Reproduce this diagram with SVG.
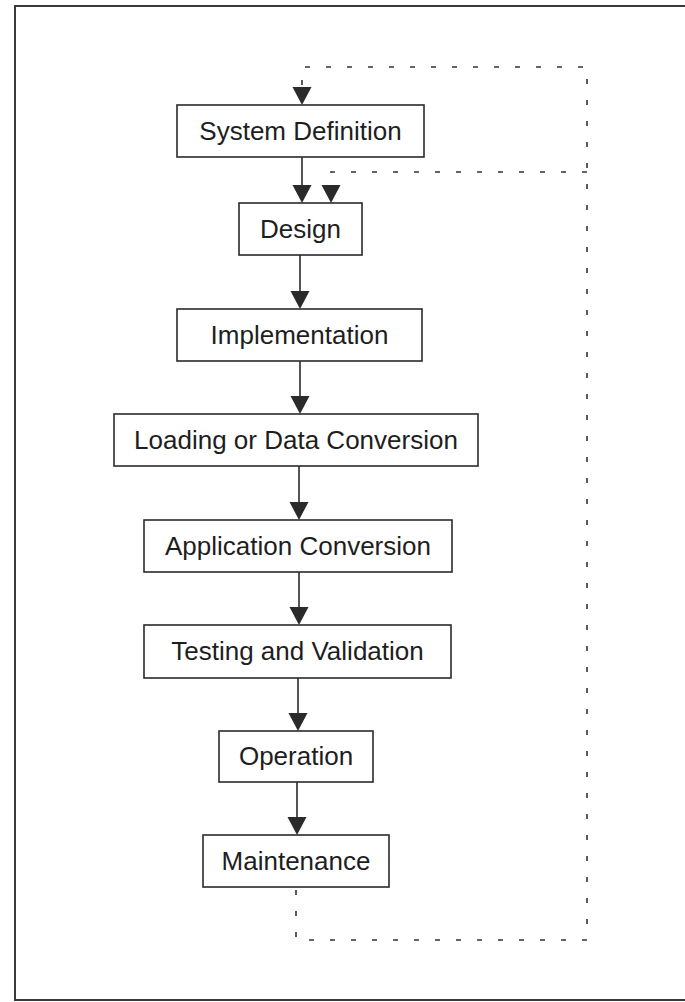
<svg xmlns="http://www.w3.org/2000/svg" width="685" height="1002" viewBox="0 0 685 1002">
  <style>
    .box { fill: #ffffff; stroke: #2a2a2a; stroke-width: 1.6; }
    .lbl { font-family: "Liberation Sans", Arial, sans-serif; font-size: 26px; fill: #1e1e1e; text-anchor: middle; }
    .flow { stroke: #2a2a2a; stroke-width: 1.6; fill: none; }
    .loop { stroke: #333333; stroke-width: 1.6; fill: none; stroke-dasharray: 5 16; }
    .head { fill: #2a2a2a; }
  </style>
  <defs>
    <path id="tri" d="M -9.5 -18 L 9.5 -18 L 0 0 Z"/>
  </defs>

  <!-- page frame -->
  <rect x="15" y="6" width="700" height="994" fill="#ffffff" stroke="#3a3a3a" stroke-width="2"/>

  <!-- connectors -->
  <g id="connectors">
    <line class="flow" x1="302" y1="157" x2="302" y2="190"/>
    <use href="#tri" class="head" x="302" y="203"/>
    <line class="flow" x1="300" y1="255" x2="300" y2="296"/>
    <use href="#tri" class="head" x="300" y="309"/>
    <line class="flow" x1="300" y1="361" x2="300" y2="401"/>
    <use href="#tri" class="head" x="300" y="414"/>
    <line class="flow" x1="299" y1="466" x2="299" y2="507"/>
    <use href="#tri" class="head" x="299" y="520"/>
    <line class="flow" x1="299" y1="572" x2="299" y2="612"/>
    <use href="#tri" class="head" x="299" y="625"/>
    <line class="flow" x1="298" y1="678" x2="298" y2="718"/>
    <use href="#tri" class="head" x="298" y="731"/>
    <line class="flow" x1="297" y1="782" x2="297" y2="822"/>
    <use href="#tri" class="head" x="297" y="835"/>

    <!-- feedback loop back to System Definition -->
    <path class="loop" d="M 296 890 L 296 940 L 587 940 L 587 67 L 302 67 L 302 88"/>
    <use href="#tri" class="head" x="302" y="105"/>
    <!-- feedback loop back to Design -->
    <path class="loop" d="M 587 172 L 331 172 L 331 186"/>
    <use href="#tri" class="head" x="331" y="203"/>
  </g>

  <g id="system-definition">
    <rect class="box" x="177" y="105" width="247" height="52"/>
    <text class="lbl" x="300.5" y="140">System Definition</text>
  </g>
  <g id="design">
    <rect class="box" x="239" y="203" width="123" height="52"/>
    <text class="lbl" x="300.5" y="238">Design</text>
  </g>
  <g id="implementation">
    <rect class="box" x="177" y="309" width="245" height="52"/>
    <text class="lbl" x="299.5" y="344">Implementation</text>
  </g>
  <g id="loading">
    <rect class="box" x="114" y="414" width="364" height="52"/>
    <text class="lbl" x="296" y="449">Loading or Data Conversion</text>
  </g>
  <g id="application-conversion">
    <rect class="box" x="144" y="520" width="308" height="52"/>
    <text class="lbl" x="298" y="555">Application Conversion</text>
  </g>
  <g id="testing">
    <rect class="box" x="144" y="625" width="307" height="53"/>
    <text class="lbl" x="297.5" y="660">Testing and Validation</text>
  </g>
  <g id="operation">
    <rect class="box" x="219" y="731" width="154" height="51"/>
    <text class="lbl" x="296" y="765">Operation</text>
  </g>
  <g id="maintenance">
    <rect class="box" x="203" y="835" width="186" height="52"/>
    <text class="lbl" x="296" y="870">Maintenance</text>
  </g>
</svg>
